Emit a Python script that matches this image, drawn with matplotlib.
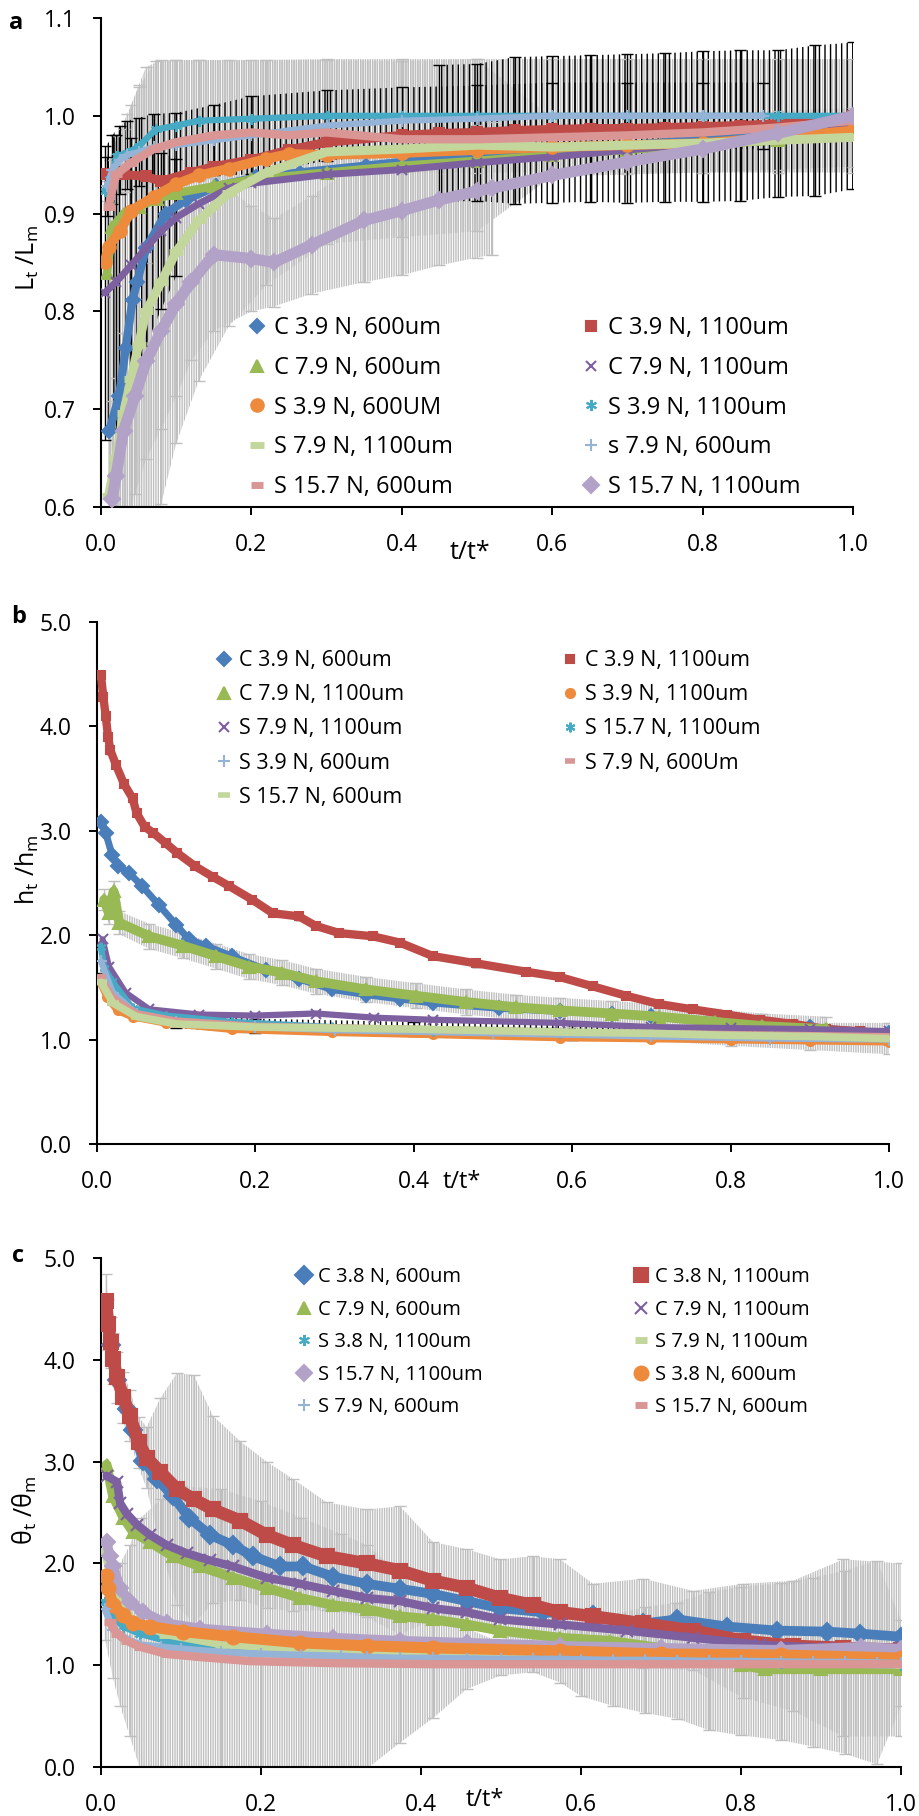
import numpy as np
import matplotlib
matplotlib.use("Agg")
import matplotlib.pyplot as plt
from matplotlib.lines import Line2D

plt.rcParams['font.family'] = ['Open Sans', 'DejaVu Sans']
plt.rcParams['mathtext.fontset'] = 'custom'
plt.rcParams['mathtext.rm'] = 'Open Sans'
plt.rcParams['mathtext.default'] = 'regular'
plt.rcParams['hatch.linewidth'] = 1.0

# colours (Excel 2010 palette)
BLUE, RED, GREEN, PURPLE = '#4A7EBB', '#BE4B48', '#98B954', '#7D60A0'
TEAL, ORANGE, LBLUE, PINK = '#46AAC5', '#EE8A3C', '#95B3D7', '#D99694'
LGREEN, LAVENDER, GREY = '#C3D69B', '#B3A2C7', '#BFBFBF'

# ---------------- panel a : L_t / L_m ----------------
a_c39_600_t = [0.011, 0.024, 0.033, 0.042, 0.048, 0.06, 0.086, 0.113, 0.153, 0.206, 0.264, 0.352, 0.44, 0.53, 0.65, 0.75, 0.85, 0.93, 1.0]
a_c39_600_y = [0.678, 0.713, 0.763, 0.812, 0.83, 0.865, 0.9, 0.914, 0.928, 0.937, 0.942, 0.949, 0.956, 0.96, 0.967, 0.973, 0.98, 0.99, 1.0]

a_c39_1100_t = [0.008, 0.03, 0.06, 0.08, 0.12, 0.15, 0.2, 0.25, 0.3, 0.4, 0.45, 0.5, 0.55, 0.6, 0.65, 0.7, 0.75, 0.8, 0.85, 0.9, 0.95, 1.0]
a_c39_1100_y = [0.94, 0.94, 0.938, 0.933, 0.942, 0.948, 0.955, 0.965, 0.973, 0.98, 0.982, 0.983, 0.985, 0.986, 0.987, 0.987, 0.988, 0.989, 0.99, 0.992, 0.995, 1.0]
a_c39_1100_e = [0, 0, 0, 0, 0, 0, 0, 0, 0, 0, 0.07, 0.07, 0.075, 0.075, 0.075, 0.076, 0.076, 0.077, 0.077, 0.075, 0.077, 0.075]

a_c79_600_t = [0.008, 0.015, 0.03, 0.05, 0.075, 0.1, 0.15, 0.2, 0.3, 0.4, 0.5, 0.6, 0.7, 0.8, 0.9, 1.0]
a_c79_600_y = [0.839, 0.886, 0.9, 0.907, 0.915, 0.921, 0.928, 0.935, 0.942, 0.949, 0.954, 0.96, 0.965, 0.97, 0.975, 0.985]

a_c79_1100_t = [0.005, 0.02, 0.04, 0.06, 0.08, 0.1, 0.13, 0.17, 0.2, 0.3, 0.4, 0.5, 0.6, 0.7, 0.8, 0.9, 1.0]
a_c79_1100_y = [0.819, 0.83, 0.847, 0.865, 0.882, 0.896, 0.91, 0.926, 0.931, 0.94, 0.945, 0.952, 0.958, 0.965, 0.972, 0.98, 0.99]
a_c79_1100_e = [0.15, 0.15, 0.13, 0.1, 0.08, 0.06, 0, 0, 0, 0, 0, 0, 0, 0, 0, 0, 0]

a_s39_600_t = [0.005, 0.01, 0.025, 0.04, 0.07, 0.1, 0.13, 0.17, 0.22, 0.25, 0.3, 0.4, 0.5, 0.6, 0.7, 0.8, 0.9, 1.0]
a_s39_600_y = [0.851, 0.866, 0.882, 0.903, 0.917, 0.93, 0.939, 0.946, 0.956, 0.961, 0.96, 0.962, 0.965, 0.968, 0.97, 0.972, 0.978, 0.985]

a_s39_1100_t = [0.005, 0.012, 0.021, 0.035, 0.05, 0.073, 0.1, 0.13, 0.2, 0.3, 0.4, 0.5, 0.6, 0.7, 0.8, 0.9, 1.0]
a_s39_1100_y = [0.923, 0.935, 0.959, 0.962, 0.969, 0.986, 0.99, 0.995, 0.997, 1.0, 1.0, 1.0, 1.0, 1.0, 1.0, 1.0, 1.0]
a_s39_1100_e = [0.01, 0.02, 0.02, 0.04, 0.06, 0.07, 0.067, 0.062, 0.06, 0.058, 0.058, 0.058, 0.058, 0.058, 0.058, 0.058, 0.058]

a_s79_1100_t = [0.01, 0.02, 0.03, 0.04, 0.05, 0.06, 0.08, 0.1, 0.13, 0.17, 0.22, 0.3, 0.4, 0.5, 0.6, 0.7, 0.8, 0.9, 1.0]
a_s79_1100_y = [0.611, 0.65, 0.696, 0.731, 0.766, 0.8, 0.83, 0.861, 0.893, 0.921, 0.942, 0.963, 0.966, 0.97, 0.968, 0.97, 0.972, 0.975, 0.978]
a_s79_1100_e = [0.3, 0.31, 0.29, 0.28, 0.265, 0.25, 0.227, 0.196, 0.164, 0.136, 0.115, 0.094, 0.09, 0.088, 0.03, 0.03, 0.03, 0.03, 0.03]

a_s79_600_t = [0.008, 0.015, 0.025, 0.035, 0.05, 0.07, 0.1, 0.15, 0.2, 0.3, 0.4, 0.5, 0.6, 0.7, 0.8, 0.88]
a_s79_600_y = [0.928, 0.945, 0.955, 0.96, 0.963, 0.968, 0.97, 0.975, 0.98, 0.99, 0.995, 0.997, 1.0, 1.0, 1.0, 1.0]
a_s79_600_e = [0.03, 0.035, 0.035, 0.035, 0.035, 0.034, 0.033, 0.036, 0.04, 0.036, 0.034, 0.034, 0.034, 0.034, 0.034, 0.034]

a_s157_600_t = [0.01, 0.02, 0.04, 0.07, 0.1, 0.15, 0.2, 0.25, 0.3, 0.4, 0.5, 0.6, 0.7, 0.8, 0.9, 1.0]
a_s157_600_y = [0.907, 0.94, 0.952, 0.966, 0.973, 0.98, 0.983, 0.98, 0.983, 0.976, 0.976, 0.978, 0.98, 0.983, 0.988, 0.995]

a_s157_1100_t = [0.015, 0.02, 0.03, 0.045, 0.06, 0.08, 0.1, 0.12, 0.15, 0.2, 0.23, 0.28, 0.35, 0.4, 0.45, 0.5, 0.52, 0.6, 0.7, 0.8, 0.9, 1.0]
a_s157_1100_y = [0.608, 0.632, 0.678, 0.713, 0.749, 0.78, 0.808, 0.83, 0.858, 0.854, 0.85, 0.868, 0.893, 0.903, 0.914, 0.923, 0.926, 0.939, 0.953, 0.966, 0.982, 1.0]
a_s157_1100_e = [0.1, 0.1, 0.1, 0.1, 0.1, 0.1, 0.095, 0.08, 0.078, 0.054, 0.045, 0.05, 0.063, 0.066, 0.067, 0.068, 0.068, 0, 0, 0, 0, 0]

# ---------------- panel b : h_t / h_m ----------------
b_c39_600_t = [0.005, 0.011, 0.019, 0.026, 0.04, 0.057, 0.078, 0.1, 0.116, 0.137, 0.17, 0.213, 0.255, 0.297, 0.34, 0.382, 0.424, 0.508, 0.584, 0.65, 0.7, 0.8, 0.9, 1.0]
b_c39_600_y = [3.08, 2.98, 2.77, 2.66, 2.6, 2.47, 2.29, 2.1, 1.96, 1.9, 1.8, 1.67, 1.58, 1.48, 1.43, 1.39, 1.35, 1.3, 1.27, 1.25, 1.23, 1.17, 1.12, 1.06]

b_c39_1100_t = [0.005, 0.008, 0.011, 0.014, 0.017, 0.024, 0.034, 0.045, 0.05, 0.06, 0.071, 0.087, 0.101, 0.124, 0.146, 0.167, 0.196, 0.222, 0.255, 0.276, 0.306, 0.348, 0.382, 0.424, 0.479, 0.542, 0.584, 0.626, 0.668, 0.71, 0.752, 0.795, 0.837, 0.879, 0.921, 0.963, 1.0]
b_c39_1100_y = [4.49, 4.28, 4.10, 3.90, 3.77, 3.63, 3.45, 3.31, 3.17, 3.04, 2.98, 2.88, 2.79, 2.66, 2.56, 2.47, 2.34, 2.21, 2.18, 2.09, 2.02, 1.99, 1.93, 1.80, 1.73, 1.65, 1.60, 1.51, 1.42, 1.34, 1.29, 1.24, 1.19, 1.15, 1.10, 1.08, 1.05]
b_c39_1100_e = [0.03] * 37

b_c79_1100_t = [0.009, 0.015, 0.021, 0.028, 0.066, 0.108, 0.15, 0.192, 0.234, 0.276, 0.34, 0.403, 0.466, 0.529, 0.584, 0.65, 0.71, 0.78, 0.84, 0.92]
b_c79_1100_y = [2.34, 2.21, 2.42, 2.12, 1.99, 1.90, 1.80, 1.70, 1.64, 1.56, 1.48, 1.42, 1.36, 1.31, 1.28, 1.25, 1.22, 1.17, 1.13, 1.10]
b_c79_1100_e = [0.1, 0.1, 0.1, 0.11, 0.12, 0.12, 0.12, 0.12, 0.12, 0.12, 0.12, 0.12, 0.12, 0.12, 0.12, 0.12, 0.12, 0.12, 0.12, 0.12]

b_s39_1100_t = [0.003, 0.013, 0.026, 0.045, 0.087, 0.17, 0.297, 0.424, 0.584, 0.7, 0.8, 0.9, 1.0]
b_s39_1100_y = [1.57, 1.41, 1.28, 1.22, 1.16, 1.10, 1.07, 1.05, 1.02, 1.01, 1.0, 0.99, 0.98]

b_s79_1100_t = [0.007, 0.015, 0.036, 0.066, 0.129, 0.2, 0.276, 0.35, 0.424, 0.584, 0.7, 0.8, 0.9, 1.0]
b_s79_1100_y = [1.96, 1.7, 1.45, 1.29, 1.24, 1.23, 1.25, 1.21, 1.19, 1.16, 1.12, 1.11, 1.10, 1.08]

b_s157_1100_t = [0.005, 0.009, 0.019, 0.045, 0.087, 0.17, 0.297, 0.424, 0.584, 0.7, 0.85, 1.0]
b_s157_1100_y = [1.89, 1.69, 1.56, 1.30, 1.23, 1.17, 1.12, 1.08, 1.06, 1.05, 1.03, 1.02]

b_s39_600_t = [0.005, 0.02, 0.05, 0.1, 0.2, 0.3, 0.5, 0.7, 0.85, 1.0]
b_s39_600_y = [1.75, 1.45, 1.25, 1.17, 1.12, 1.09, 1.06, 1.03, 1.01, 1.0]

b_s79_600_t = [0.005, 0.02, 0.05, 0.1, 0.2, 0.4, 0.6, 0.8, 1.0]
b_s79_600_y = [1.6, 1.4, 1.25, 1.18, 1.13, 1.1, 1.07, 1.05, 1.03]
b_s79_600_e = [0.04, 0.05, 0.06, 0.07, 0.07, 0.07, 0.07, 0.07, 0.07]

b_s157_600_t = [0.005, 0.02, 0.05, 0.1, 0.2, 0.4, 0.6, 0.7, 0.8, 0.9, 1.0]
b_s157_600_y = [1.55, 1.35, 1.22, 1.15, 1.12, 1.1, 1.07, 1.06, 1.04, 1.03, 1.01]
b_s157_600_e = [0.02, 0.02, 0.02, 0.02, 0.02, 0.03, 0.05, 0.07, 0.1, 0.13, 0.15]

# ---------------- panel c : theta_t / theta_m ----------------
c_c38_600_t = [0.012, 0.02, 0.032, 0.04, 0.053, 0.07, 0.09, 0.11, 0.136, 0.165, 0.19, 0.224, 0.253, 0.29, 0.332, 0.374, 0.415, 0.457, 0.499, 0.553, 0.615, 0.678, 0.72, 0.782, 0.845, 0.907, 0.949, 1.0]
c_c38_600_y = [4.15, 3.80, 3.52, 3.31, 3.01, 2.83, 2.66, 2.45, 2.28, 2.18, 2.07, 1.97, 1.97, 1.87, 1.80, 1.75, 1.70, 1.63, 1.56, 1.52, 1.49, 1.41, 1.45, 1.38, 1.34, 1.33, 1.31, 1.28]

c_c38_1100_t = [0.006, 0.009, 0.012, 0.015, 0.02, 0.028, 0.036, 0.047, 0.057, 0.074, 0.095, 0.116, 0.14, 0.174, 0.207, 0.24, 0.282, 0.332, 0.374, 0.415, 0.457, 0.499, 0.54, 0.574, 0.615, 0.678, 0.74, 0.803, 0.865, 0.928, 1.0]
c_c38_1100_y = [4.58, 4.35, 4.17, 4.01, 3.83, 3.63, 3.45, 3.19, 3.04, 2.90, 2.73, 2.63, 2.53, 2.42, 2.28, 2.18, 2.07, 2.0, 1.93, 1.83, 1.76, 1.66, 1.59, 1.52, 1.48, 1.41, 1.34, 1.24, 1.19, 1.17, 1.15]
c_c38_1100_e = [0.26, 0.25, 0.25, 0.25, 0.25, 0.25, 0.25, 0.25, 0.3, 0.72, 1.14, 1.22, 0.92, 0.78, 0.72, 0.65, 0.53, 0.53, 0.63, 0.38, 0.38, 0.38, 0.48, 0.52, 0.32, 0.44, 0.39, 0.56, 0.64, 0.87, 0.85]

c_c79_600_t = [0.007, 0.015, 0.028, 0.04, 0.061, 0.09, 0.124, 0.165, 0.207, 0.249, 0.29, 0.332, 0.374, 0.415, 0.457, 0.499, 0.574, 0.636, 0.699, 0.76, 0.8, 0.83, 0.9, 1.0]
c_c79_600_y = [2.97, 2.66, 2.45, 2.31, 2.21, 2.07, 1.97, 1.86, 1.76, 1.66, 1.59, 1.55, 1.48, 1.45, 1.40, 1.34, 1.27, 1.24, 1.17, 1.1, 1.0, 0.96, 0.96, 0.96]

c_c79_1100_t = [0.007, 0.02, 0.024, 0.032, 0.045, 0.061, 0.082, 0.107, 0.136, 0.165, 0.207, 0.249, 0.29, 0.332, 0.374, 0.415, 0.457, 0.499, 0.574, 0.657, 0.74, 0.824, 0.907, 1.0]
c_c79_1100_y = [2.86, 2.80, 2.59, 2.49, 2.38, 2.28, 2.18, 2.10, 2.03, 1.97, 1.86, 1.80, 1.73, 1.66, 1.63, 1.56, 1.52, 1.45, 1.40, 1.34, 1.27, 1.20, 1.17, 1.17]

c_s38_1100_t = [0.005, 0.015, 0.028, 0.049, 0.082, 0.124, 0.186, 0.249, 0.332, 0.415, 0.574, 0.7, 0.85, 1.0]
c_s38_1100_y = [1.62, 1.48, 1.38, 1.31, 1.24, 1.19, 1.14, 1.11, 1.08, 1.06, 1.04, 1.03, 1.02, 1.0]

c_s79_1100_t = [0.005, 0.01, 0.02, 0.04, 0.08, 0.15, 0.3, 0.5, 0.7, 0.85, 1.0]
c_s79_1100_y = [2.12, 1.9, 1.65, 1.45, 1.3, 1.2, 1.12, 1.08, 1.05, 1.02, 1.0]

c_s157_1100_t = [0.007, 0.011, 0.015, 0.024, 0.036, 0.053, 0.082, 0.124, 0.207, 0.29, 0.374, 0.457, 0.574, 0.7, 0.85, 0.95, 1.0]
c_s157_1100_y = [2.21, 2.07, 1.97, 1.76, 1.62, 1.52, 1.41, 1.36, 1.31, 1.27, 1.24, 1.22, 1.19, 1.17, 1.15, 1.18, 1.16]

c_s38_600_t = [0.006, 0.009, 0.015, 0.028, 0.04, 0.061, 0.103, 0.165, 0.249, 0.332, 0.415, 0.574, 0.7, 0.85, 1.0]
c_s38_600_y = [1.88, 1.76, 1.59, 1.49, 1.41, 1.38, 1.33, 1.28, 1.22, 1.19, 1.17, 1.14, 1.11, 1.10, 1.07]

c_s79_600_t = [0.005, 0.015, 0.024, 0.036, 0.05, 0.075, 0.1, 0.15, 0.2, 0.25, 0.3, 0.332, 0.374, 0.415, 0.457, 0.5, 0.54, 0.574, 0.6, 0.64, 0.68, 0.72, 0.76, 0.8, 0.85, 0.89, 0.93, 0.97, 1.0]
c_s79_600_y = [1.55, 1.35, 1.3, 1.24, 1.2, 1.18, 1.16, 1.13, 1.11, 1.1, 1.09, 1.08, 1.07, 1.07, 1.065, 1.06, 1.06, 1.06, 1.055, 1.05, 1.05, 1.045, 1.04, 1.04, 1.035, 1.03, 1.03, 1.025, 1.02]
c_s79_600_e = [0.3, 0.48, 0.7, 0.94, 1.25, 1.45, 1.6, 1.6, 1.5, 1.35, 1.2, 1.1, 0.83, 0.59, 0.3, 0.16, 0.13, 0.23, 0.36, 0.45, 0.52, 0.57, 0.68, 0.73, 0.77, 0.83, 0.9, 1.0, 0.42]

c_s157_600_t = [0.011, 0.02, 0.032, 0.049, 0.082, 0.124, 0.186, 0.29, 0.415, 0.574, 0.8, 1.0]
c_s157_600_y = [1.42, 1.31, 1.24, 1.18, 1.11, 1.08, 1.04, 1.02, 1.01, 1.01, 1.01, 1.01]


def err_curtain(ax, t, y, e, color, hatch='|||||||'):
    t, y, e = np.asarray(t), np.asarray(y), np.asarray(e)
    m = e > 0
    ax.fill_between(t, y - e, y + e, where=m, facecolor='none', edgecolor=color,
                    hatch=hatch, linewidth=0, zorder=1)
    ax.errorbar(t[m], y[m], yerr=e[m], fmt='none', ecolor=color, elinewidth=1,
                capsize=4, capthick=1, zorder=1.5)


def series(ax, t, y, color, marker, ms, lw, z, mew=1.5):
    ax.plot(t, y, color=color, lw=lw, marker=marker, ms=ms, mfc=color, mec=color,
            mew=mew, solid_capstyle='round', solid_joinstyle='round', zorder=z)
    return Line2D([], [], ls='none', color=color, marker=marker, ms=ms, mfc=color,
                  mec=color, mew=mew)


def two_col_legend(ax, handles, labels, x1, x2, ytop, fs, spacing):
    kw = dict(loc='upper left', frameon=False, borderpad=0, borderaxespad=0,
              handlelength=0.8, handletextpad=0.3, labelspacing=spacing,
              fontsize=fs)
    leg1 = ax.legend(handles[0::2], labels[0::2], bbox_to_anchor=(x1, ytop), **kw)
    ax.add_artist(leg1)
    ax.legend(handles[1::2], labels[1::2], bbox_to_anchor=(x2, ytop), **kw)


def style_axes(ax, ylim, yticks):
    ax.set_xlim(0, 1.0)
    ax.set_ylim(*ylim)
    ax.set_xticks(np.arange(0, 1.01, 0.2))
    ax.set_yticks(yticks)
    ax.xaxis.set_major_formatter('{x:.1f}')
    ax.yaxis.set_major_formatter('{x:.1f}')
    for s in ['top', 'right']:
        ax.spines[s].set_visible(False)
    for s in ['left', 'bottom']:
        ax.spines[s].set_linewidth(1.5)
    ax.tick_params(direction='out', length=6, width=1.4, labelsize=16.5)
    ax.tick_params(axis='x', pad=13)
    ax.tick_params(axis='y', pad=12)


fig = plt.figure(figsize=(9.2, 18.16), dpi=100)
W, H = 920, 1816


def add_ax(x0, x1, y0, y1):
    return fig.add_axes([x0 / W, 1 - y1 / H, (x1 - x0) / W, (y1 - y0) / H])


# ---------- a ----------
ax = add_ax(101, 853, 18, 507)
err_curtain(ax, a_s79_1100_t, a_s79_1100_y, a_s79_1100_e, GREY)
err_curtain(ax, a_s157_1100_t, a_s157_1100_y, a_s157_1100_e, GREY)
err_curtain(ax, a_s39_1100_t, a_s39_1100_y, a_s39_1100_e, GREY)
err_curtain(ax, a_s79_600_t, a_s79_600_y, a_s79_600_e, 'black', '|||')
err_curtain(ax, a_c79_1100_t, a_c79_1100_y, a_c79_1100_e, 'black', '|||')
err_curtain(ax, a_c39_1100_t, a_c39_1100_y, a_c39_1100_e, 'black', '|||')
h = [
    series(ax, a_c39_600_t, a_c39_600_y, BLUE, 'D', 7, 6, 3),
    series(ax, a_c39_1100_t, a_c39_1100_y, RED, 's', 7, 6.5, 3.1),
    series(ax, a_c79_600_t, a_c79_600_y, GREEN, '^', 8, 6, 3.2),
    series(ax, a_c79_1100_t, a_c79_1100_y, PURPLE, 'x', 7, 5, 3.3),
    series(ax, a_s39_600_t, a_s39_600_y, ORANGE, 'o', 9, 7, 3.4),
    series(ax, a_s39_1100_t, a_s39_1100_y, TEAL, (6, 2, 0), 8, 4.5, 3.5),
    series(ax, a_s79_1100_t, a_s79_1100_y, LGREEN, '_', 10, 6.5, 3.6, mew=5),
    series(ax, a_s79_600_t, a_s79_600_y, LBLUE, '+', 9, 4.5, 3.7),
    series(ax, a_s157_600_t, a_s157_600_y, PINK, '_', 9, 6, 3.8, mew=5),
    series(ax, a_s157_1100_t, a_s157_1100_y, LAVENDER, 'D', 8, 8, 3.9),
]
a_labels = ['C 3.9 N, 600um', 'C 3.9 N, 1100um', 'C 7.9 N, 600um', 'C 7.9 N, 1100um',
            'S 3.9 N, 600UM', 'S 3.9 N, 1100um', 'S 7.9 N, 1100um', 's 7.9 N, 600um',
            'S 15.7 N, 600um', 'S 15.7 N, 1100um']
two_col_legend(ax, h, a_labels, 0.1949, 0.639, 0.3906, 17, 0.67)
style_axes(ax, (0.6, 1.1), np.arange(0.6, 1.101, 0.1))
ax.text(0.49, -0.094, 't/t*', transform=ax.transAxes, ha='center', va='center', fontsize=18)
fig.text(28 / W, 1 - 258 / H, 'L$_t$ /L$_m$', rotation=90, ha='center', va='center', fontsize=18)
fig.text(16 / W, 1 - 23 / H, 'a', ha='center', va='center', fontsize=17, weight='bold')

# ---------- b ----------
ax = add_ax(97, 889, 622, 1144)
err_curtain(ax, b_c79_1100_t, b_c79_1100_y, b_c79_1100_e, GREY)
err_curtain(ax, b_s157_600_t, b_s157_600_y, b_s157_600_e, GREY)
err_curtain(ax, b_s79_600_t, b_s79_600_y, b_s79_600_e, 'black', '|||')
ax.errorbar(b_c39_1100_t, b_c39_1100_y, yerr=b_c39_1100_e, fmt='none', ecolor='black',
            elinewidth=1, capsize=3, zorder=1.5)
h = [
    series(ax, b_c39_600_t, b_c39_600_y, BLUE, 'D', 7, 5, 3),
    series(ax, b_c39_1100_t, b_c39_1100_y, RED, 's', 5.5, 6, 3.1),
    series(ax, b_c79_1100_t, b_c79_1100_y, GREEN, '^', 8, 7, 3.2),
    series(ax, b_s39_1100_t, b_s39_1100_y, ORANGE, 'o', 6.5, 5.5, 3.3),
    series(ax, b_s79_1100_t, b_s79_1100_y, PURPLE, 'x', 6.5, 4.5, 3.4),
    series(ax, b_s157_1100_t, b_s157_1100_y, TEAL, (6, 2, 0), 7, 4.5, 3.5),
    series(ax, b_s39_600_t, b_s39_600_y, LBLUE, '+', 8, 4.5, 3.6),
    series(ax, b_s79_600_t, b_s79_600_y, PINK, '_', 7, 5, 3.7, mew=4),
    series(ax, b_s157_600_t, b_s157_600_y, LGREEN, '_', 8, 5.5, 3.8, mew=4),
]
b_labels = ['C 3.9 N, 600um', 'C 3.9 N, 1100um', 'C 7.9 N, 1100um', 'S 3.9 N, 1100um',
            'S 7.9 N, 1100um', 'S 15.7 N, 1100um', 'S 3.9 N, 600um', 'S 7.9 N, 600Um',
            'S 15.7 N, 600um']
two_col_legend(ax, h, b_labels, 0.1495, 0.5864, 0.946, 15.5, 0.61)
style_axes(ax, (0, 5), np.arange(0, 5.01, 1.0))
ax.text(0.46, -0.073, 't/t*', transform=ax.transAxes, ha='center', va='center', fontsize=17)
fig.text(27 / W, 1 - 870 / H, 'h$_t$ /h$_m$', rotation=90, ha='center', va='center', fontsize=18)
fig.text(19 / W, 1 - 617 / H, 'b', ha='center', va='center', fontsize=17, weight='bold')

# ---------- c ----------
ax = add_ax(101, 901, 1258, 1767)
err_curtain(ax, c_c38_1100_t, c_c38_1100_y, c_c38_1100_e, GREY)
err_curtain(ax, c_s79_600_t, c_s79_600_y, c_s79_600_e, GREY)
h = [
    series(ax, c_c38_600_t, c_c38_600_y, BLUE, 'D', 9, 7, 3),
    series(ax, c_c38_1100_t, c_c38_1100_y, RED, 's', 10, 9, 3.1),
    series(ax, c_c79_600_t, c_c79_600_y, GREEN, '^', 8.5, 7, 3.2),
    series(ax, c_c79_1100_t, c_c79_1100_y, PURPLE, 'x', 8.5, 6, 3.3),
    series(ax, c_s38_1100_t, c_s38_1100_y, TEAL, (6, 2, 0), 8, 5, 3.4),
    series(ax, c_s79_1100_t, c_s79_1100_y, LGREEN, '_', 9, 5, 3.5, mew=5),
    series(ax, c_s157_1100_t, c_s157_1100_y, LAVENDER, 'D', 8.5, 7, 3.6),
    series(ax, c_s38_600_t, c_s38_600_y, ORANGE, 'o', 10, 8, 3.7),
    series(ax, c_s79_600_t, c_s79_600_y, LBLUE, '+', 9, 5, 3.8),
    series(ax, c_s157_600_t, c_s157_600_y, PINK, '_', 9, 6, 3.9, mew=5),
]
c_labels = ['C 3.8 N, 600um', 'C 3.8 N, 1100um', 'C 7.9 N, 600um', 'C 7.9 N, 1100um',
            'S 3.8 N, 1100um', 'S 7.9 N, 1100um', 'S 15.7 N, 1100um', 'S 3.8 N, 600um',
            'S 7.9 N, 600um', 'S 15.7 N, 600um']
two_col_legend(ax, h, c_labels, 0.244, 0.665, 0.982, 14.5, 0.62)
style_axes(ax, (0, 5), np.arange(0, 5.01, 1.0))
ax.text(0.48, -0.065, 't/t*', transform=ax.transAxes, ha='center', va='center', fontsize=17)
fig.text(25 / W, 1 - 1510 / H, 'θ$_t$ /θ$_m$', rotation=90, ha='center', va='center', fontsize=18)
fig.text(18 / W, 1 - 1256 / H, 'c', ha='center', va='center', fontsize=17, weight='bold')

fig.savefig('out.png', dpi=100)
